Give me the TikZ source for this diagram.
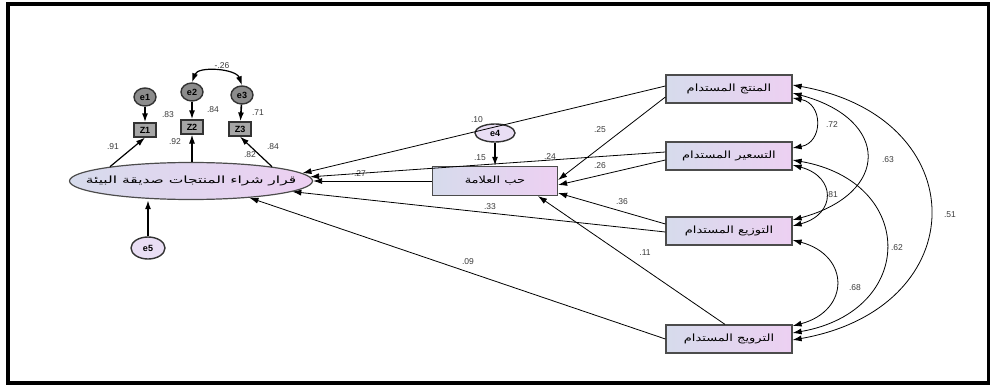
\documentclass[tikz,border=0pt]{standalone}
\usepackage{fontspec}
\setmainfont{Liberation Sans}
\newfontfamily\arabicfont[Script=Arabic]{DejaVu Sans}
\TeXXeTstate=1
\usepackage{tikz}
\usetikzlibrary{arrows.meta,shapes.geometric}
\definecolor{boxleft}{HTML}{D6DBEC}
\definecolor{boxright}{HTML}{EDD0F2}
\definecolor{errfill}{HTML}{E9DEF4}
\definecolor{labelgray}{HTML}{3A3A3A}
\newcommand{\artext}[2][1.3]{\makebox[0pt]{\scalebox{#1}[1]{\arabicfont\beginR #2\endR}}}

\begin{document}
\begin{tikzpicture}[x=1pt,y=1pt,>={Latex[length=9pt,width=6pt]},line width=0.8pt,
  box/.style={draw=black!70,line width=1.2pt,shade,left color=boxleft,right color=boxright,
    minimum width=126pt,minimum height=28pt,inner sep=0pt,font=\fontsize{10}{11}\selectfont},
  latent/.style={ellipse,draw=black!70,line width=1.2pt,shade,left color=boxleft,right color=boxright,
    minimum width=243pt,minimum height=37pt,inner sep=0pt,font=\fontsize{10}{11}\selectfont},
  item/.style={draw=black!80,line width=1.2pt,fill=black!35,minimum width=22pt,minimum height=14pt,
    inner sep=0pt,font=\fontsize{9}{10}\selectfont\bfseries},
  err/.style={ellipse,draw=black!80,line width=1.4pt,fill=errfill,inner sep=0pt,
    font=\fontsize{9}{10}\selectfont\bfseries},
  lbl/.style={text=labelgray,inner sep=0pt,font=\fontsize{8.5}{9}\selectfont}]
  \useasboundingbox (0,0) rectangle (990,-385);
  % Rahmen
  \draw[line width=4pt] (7.5,-4.5) rectangle (988.5,-383);
  % Konstrukte
  \node[latent] (dec) at (191,-181) {\artext[1.55]{قرار شراء المنتجات صديقة البيئة}};
  \node[box,minimum width=125pt,minimum height=29pt] (love) at (495,-181) {\artext{حب العلامة}};
  \node[box] (prod) at (729,-89) {\artext{المنتج المستدام}};
  \node[box] (price) at (729,-156) {\artext{التسعير المستدام}};
  \node[box] (dist) at (729,-231) {\artext{التوزيع المستدام}};
  \node[box] (promo) at (729,-339) {\artext{الترويج المستدام}};
  % Indikatoren und Fehler
  \node[item] (z1) at (145,-130) {Z1};
  \node[item] (z2) at (192,-127) {Z2};
  \node[item] (z3) at (240,-129) {Z3};
  \node[err,fill=black!45,minimum width=22pt,minimum height=18pt] (e1) at (145,-97) {e1};
  \node[err,fill=black!45,minimum width=22pt,minimum height=18pt] (e2) at (192,-92) {e2};
  \node[err,fill=black!45,minimum width=22pt,minimum height=18pt] (e3) at (242,-95) {e3};
  \node[err,minimum width=40pt,minimum height=18pt] (e4) at (495,-133) {e4};
  \node[err,minimum width=34pt,minimum height=22pt] (e5) at (148,-248) {e5};
  % Messmodell
  \foreach \i in {1,2,3} {
    \draw[->,line width=1.6pt] (e\i) -- (z\i);
  }
  \draw[->,line width=1.2pt] (dec.170) -- (z1.south);
  \draw[->,line width=1.2pt] (z2.south |- dec.north) -- (z2.south);
  \draw[->,line width=1.2pt] (dec.10) -- (z3.south);
  \draw[<->,line width=1.2pt] (e2.north) to[out=70,in=110,looseness=0.9] (e3.north);
  \draw[->,line width=1.6pt] (e5) -- (e5 |- dec.south);
  \draw[->,line width=1.6pt] (e4) -- (love);
  % Pfade
  \draw[->] ([yshift=3pt]prod.west) -- (dec.4);
  \draw[->] ([yshift=-8pt]prod.west) -- ([yshift=1pt]love.east);
  \draw[->] ([yshift=4pt]price.west) -- (dec.2);
  \draw[->] ([yshift=-4pt]price.west) -- ([yshift=-4pt]love.east);
  \draw[->] (love) -- (dec);
  \draw[->] ([yshift=-1pt]dist.west) -- (dec.-6);
  \draw[->] ([yshift=7pt]dist.west) -- ([yshift=-12pt]love.east);
  \draw[->] (promo.west) -- (dec.-16);
  \draw[->] ([xshift=-4pt]promo.north) -- ([xshift=43pt]love.south);
  % Kovarianzen
  \draw[<->] ([yshift=-9pt]prod.east) to[out=-10,in=10,looseness=1.6] ([yshift=8pt]price.east);
  \draw[<->] ([yshift=-4pt]prod.east) to[out=-15,in=15,looseness=2.05] ([yshift=11pt]dist.east);
  \draw[<->] ([yshift=4pt]prod.east) to[out=-10,in=10,looseness=1.87] ([yshift=-1pt]promo.east);
  \draw[<->] ([yshift=-9pt]price.east) to[out=-15,in=15,looseness=1.9] ([yshift=5pt]dist.east);
  \draw[<->] ([yshift=-4pt]price.east) to[out=-10,in=10,looseness=1.87] ([yshift=6pt]promo.east);
  \draw[<->] ([yshift=-9pt]dist.east) to[out=-15,in=15,looseness=1.78] ([yshift=13pt]promo.east);
  % Koeffizienten
  \foreach \x/\y/\t [count=\i] in {168/115/.83, 213/110/.84, 258/113/.71, 222/66/-.26,
      113/147/.91, 175/142/.92, 273/147/.84, 250/155/.82, 477/120/.10, 480/158/.15,
      600/130/.25, 550/157/.24, 600/166/.26, 360/174/.27, 490/207/.33, 622/202/.36,
      468/262/.09, 645/253/.11, 832/125/.72, 888/160/.63, 950/215/.51, 832/195/.81,
      897/248/.62, 855/288/.68} {
    \node[lbl] (lab\i) at (\x,-\y) {\t};
  }
\end{tikzpicture}
\end{document}
